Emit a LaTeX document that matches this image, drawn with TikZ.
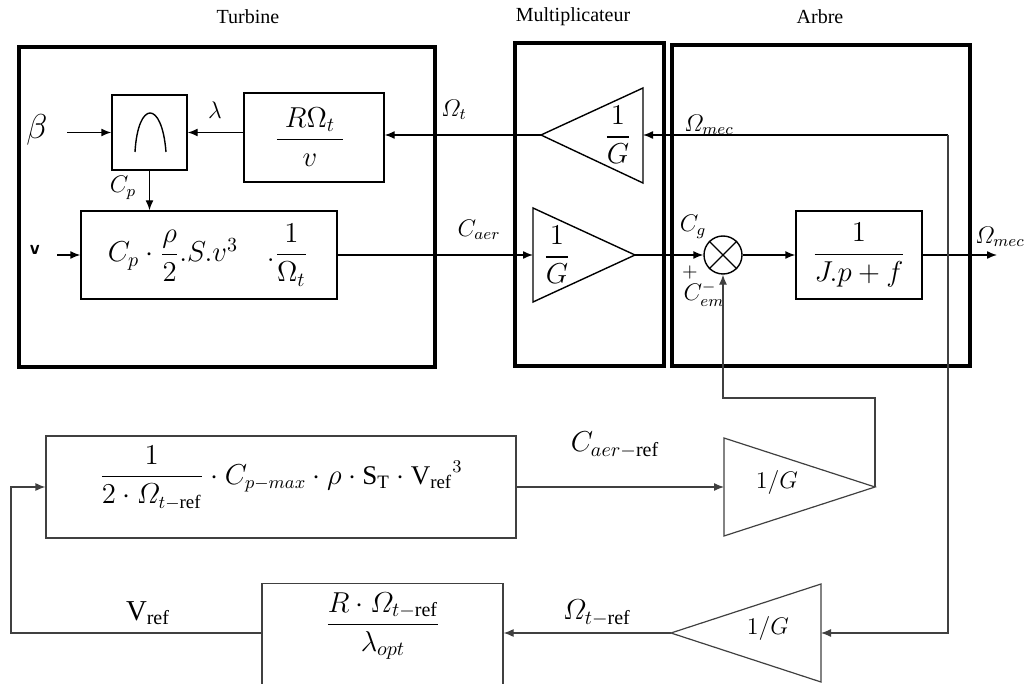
\documentclass[tikz,border=0pt]{standalone}
\usepackage{amsmath,amssymb}
\usepackage{fontspec}
\setmainfont{Liberation Serif}
\usetikzlibrary{arrows.meta,positioning}

\begin{document}
\begin{tikzpicture}[x=0.5pt, y=-0.5pt, font=\normalsize,
		>={Latex[length=5pt,width=4pt]},
		wire/.style={line width=0.7pt},
		refwire/.style={line width=0.6pt, black!75},
		block/.style={draw, line width=0.7pt, inner sep=0pt},
		refblock/.style={draw, line width=0.6pt, black!75, inner sep=0pt},
		gain/.style={draw, line width=0.7pt},
		refgain/.style={draw, line width=0.6pt, black!75},
		group/.style={draw, line width=2pt},
		grouptitle/.style={font=\normalsize},
		lbl/.style={inner sep=1pt}]
		
		\useasboundingbox (0,0) rectangle (1029,684);
		\clip (0,0) rectangle (1029,684);
		
		% ==========================================
		% GROUPS
		% ==========================================
		\draw[group] (19,47) rectangle (435,367);
		\draw[group] (515,43) rectangle (664,366);
		\draw[group] (672,45) rectangle (970,366);
		\node[grouptitle] (tturb) at (248,17) {Turbine};
		\node[grouptitle] (tmult) at (573,17) {Multiplicateur};
		\node[grouptitle] (tarbre) at (820,17) {Arbre};
		
		% ==========================================
		% TURBINE
		% ==========================================
		\node[block, minimum width=37.5pt, minimum height=37.5pt] (bell) at (149.5,132.5) {};
		\draw[line width=0.7pt] (135,152) .. controls (138,100) and (162,100) .. (166,152);
		\node[block, minimum width=70pt, minimum height=44.5pt] (lam) at (314,137.5) {};
		\node (lamexpr) at (310,137) {\Large$\dfrac{\;R\Omega_{t}\;}{v}$};
		\node[block, minimum width=128pt, minimum height=44pt] (pow) at (209,255) {};
		\node (powexpr) at (208,255) {\Large$C_{p}\cdot\dfrac{\rho}{2}.S.v^{3}\quad.\dfrac{1}{\Omega_{t}}$};
		
		\node[lbl] (beta) at (37,130) {\LARGE$\beta$};
		\node[lbl] (vwind) at (35,250) {\sffamily\bfseries v};
		\node[lbl] (lamlbl) at (215,110) {\large$\lambda$};
		\node[lbl] (cplbl) at (123,188) {\large$C_p$};
		\node[lbl] (omtlbl) at (454,110) {\large$\varOmega_{t}$};
		\node[lbl] (caerlbl) at (479,230) {\large$C_{aer}$};
		
		\coordinate (betain) at (67,132.5);
		\coordinate (vin) at (57,255);
		
		% ==========================================
		% MULTIPLICATEUR
		% ==========================================
		\draw[gain] (643,88) -- (643,183) -- (541,135) -- cycle;
		\coordinate (g1in) at (643,135);
		\coordinate (g1out) at (541,135);
		\node (g1lbl) at (618,135) {\Large$\dfrac{1}{G}$};
		
		\draw[gain] (533,208) -- (533,302) -- (635,255) -- cycle;
		\coordinate (g2in) at (533,255);
		\coordinate (g2out) at (635,255);
		\node (g2lbl) at (557,255) {\Large$\dfrac{1}{G}$};
		
		% ==========================================
		% ARBRE
		% ==========================================
		\node[circle, draw, line width=0.7pt, minimum size=19pt, inner sep=0pt] (sum) at (723,255) {};
		\draw[line width=0.7pt] (sum.north west) -- (sum.south east)
		(sum.north east) -- (sum.south west);
		\node[block, minimum width=63pt, minimum height=44pt] (shaft) at (859,255) {};
		\node (shaftexpr) at (859,255) {\Large$\dfrac{1}{J.p+f}$};
		
		\node[lbl] (cglbl) at (693,227) {\large$C_g$};
		\node[lbl] (plus) at (690,273) {$+$};
		\node[lbl] (cemlbl) at (704,294) {\large$C^{-}_{em}$};
		\node[lbl] (ommlbl) at (709,125) {\large$\varOmega_{mec}$};
		\node[lbl] (omolbl) at (1000,237) {\large$\varOmega_{mec}$};
		
		\coordinate (omout) at (997,255);
		\coordinate (fbtop) at (948,135);
		
		% ==========================================
		% REFERENCE LOOP
		% ==========================================
		\node[refblock, minimum width=235pt, minimum height=51pt] (ref) at (281,487) {};
		\node (refexpr) at (281,478) {\fontsize{13.5}{16}\selectfont$\dfrac{1}{2\cdot\varOmega_{t-\mathrm{ref}}}\cdot C_{p-max}\cdot\rho\cdot\mathrm{S}_{\mathrm{T}}\cdot{\mathrm{V}_{\mathrm{ref}}}^{3}$};
		\node[refblock, minimum width=120.5pt, minimum height=60pt, anchor=north] (rref) at (382.5,583) {};
		\node (rrefexpr) at (383,626) {\Large$\dfrac{R\cdot\varOmega_{t-\mathrm{ref}}}{\lambda_{opt}}$};
		
		\draw[refgain] (724,438) -- (724,536) -- (875,487) -- cycle;
		\coordinate (g3in) at (724,487);
		\coordinate (g3out) at (875,487);
		\node (g3lbl) at (777,482) {\large$1/G$};
		
		\draw[refgain] (821,584) -- (821,682) -- (671,633) -- cycle;
		\coordinate (g4in) at (821,633);
		\coordinate (g4out) at (671,633);
		\node (g4lbl) at (768,628) {\large$1/G$};
		
		\node[lbl] (caerref) at (615,445) {\Large$C_{aer-\mathrm{ref}}$};
		\node[lbl] (omtref) at (597,613) {\Large$\varOmega_{t-\mathrm{ref}}$};
		\node[lbl] (vref) at (148,613) {\Large$\mathrm{V}_{\mathrm{ref}}$};
		
		\coordinate (cemup) at (875,398);
		\coordinate (vleft) at (11,633);
		
		% ==========================================
		% CONNECTORS
		% ==========================================
		\draw[wire, ->] (betain) -- (betain -| bell.west);
		\draw[wire, ->] (bell.east -| lam.west) -- (bell.east);
		\draw[wire, ->] (g1out) -- (g1out -| lam.east);
		\draw[wire, ->] (bell.south) -- (bell.south |- pow.north);
		\draw[wire, ->] (vin) -- (vin -| pow.west);
		\draw[wire, ->] (pow.east) -- (g2in);
		\draw[wire, ->] (g2out) -- (sum.west);
		\draw[wire, ->] (sum.east) -- (shaft.west);
		\draw[wire, ->] (shaft.east) -- (omout);
		\draw[wire, ->] (fbtop) -- (g1in);
		\draw[refwire, ->] (fbtop) -- (fbtop |- g4in) -- (g4in);
		\draw[refwire, ->] (g3out) -- (cemup) -- (cemup -| sum.south) -- (sum.south);
		\draw[refwire, ->] (ref.east) -- (g3in);
		\draw[refwire, ->] (g4out) -- (g4out -| rref.east);
		\draw[refwire, ->] (rref.west |- g4out) -- (vleft) -- (vleft |- ref.west) -- (ref.west);
		
	\end{tikzpicture}
\end{document}
